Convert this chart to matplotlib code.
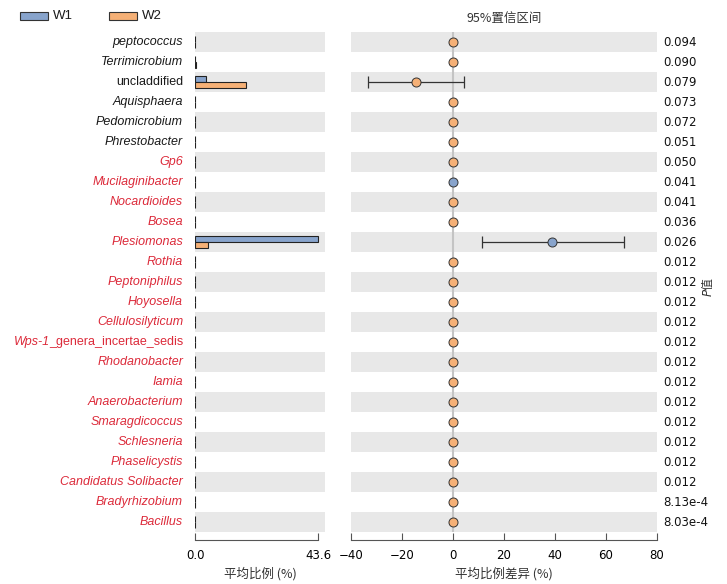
import matplotlib
matplotlib.use("Agg")
import matplotlib.pyplot as plt
import matplotlib.transforms as mtransforms
from matplotlib.patches import Rectangle

# données
genres = ["peptococcus", "Terrimicrobium", "uncladdified", "Aquisphaera", "Pedomicrobium",
          "Phrestobacter", "Gp6", "Mucilaginibacter", "Nocardioides", "Bosea", "Plesiomonas",
          "Rothia", "Peptoniphilus", "Hoyosella", "Cellulosilyticum", "Wps-1_genera_incertae_sedis",
          "Rhodanobacter", "Iamia", "Anaerobacterium", "Smaragdicoccus", "Schlesneria",
          "Phaselicystis", "Candidatus Solibacter", "Bradyrhizobium", "Bacillus"]
nb_noirs = 6  # les 6 premiers en noir, le reste en rouge

w1 = [0.05, 0.15, 3.9, 0.1, 0.05, 0.05, 0.06, 0.12, 0.05, 0.05, 43.6,
      0.03, 0.05, 0.03, 0.06, 0.03, 0.05, 0.04, 0.05, 0.03, 0.05, 0.03, 0.05, 0.05, 0.06]
w2 = [0.08, 0.25, 18.1, 0.15, 0.08, 0.08, 0.1, 0.05, 0.1, 0.1, 4.6,
      0.06, 0.1, 0.06, 0.1, 0.06, 0.1, 0.08, 0.1, 0.06, 0.1, 0.06, 0.1, 0.1, 0.12]
diff = [-0.1, -0.1, -14.5, -0.1, -0.1, -0.1, -0.1, 0.1, -0.1, -0.1, 39.0,
        -0.1, -0.1, -0.1, -0.1, -0.1, -0.1, -0.1, -0.1, -0.1, -0.1, -0.1, -0.1, -0.1, -0.1]
ci_bas = [None, None, -33.4, None, None, None, None, None, None, None, 11.5,
          None, None, None, None, None, None, None, None, None, None, None, None, None, None]
ci_haut = [None, None, 4.3, None, None, None, None, None, None, None, 67.0,
           None, None, None, None, None, None, None, None, None, None, None, None, None, None]
pvals = ["0.094", "0.090", "0.079", "0.073", "0.072", "0.051", "0.050", "0.041", "0.041", "0.036",
         "0.026", "0.012", "0.012", "0.012", "0.012", "0.012", "0.012", "0.012", "0.012", "0.012",
         "0.012", "0.012", "0.012", "8.13e-4", "8.03e-4"]

bleu = "#88a4cc"
orange = "#f5b076"
gris_bande = "#e8e8e8"
rouge = "#dc2a3a"
cjk = ["Noto Sans CJK SC", "DejaVu Sans"]

W, H = 727, 584
fig = plt.figure(figsize=(W / 100, H / 100), dpi=100)
n = len(genres)

ax1 = fig.add_axes([195 / W, 1 - 532 / H, 130 / W, 500 / H])
ax2 = fig.add_axes([351 / W, 1 - 532 / H, 306 / W, 500 / H])

for ax in (ax1, ax2):
    ax.set_ylim(n - 0.5, -0.5)
    for i in range(0, n, 2):
        ax.axhspan(i - 0.5, i + 0.5, color=gris_bande, lw=0, zorder=0)
    for s in ["left", "right", "top"]:
        ax.spines[s].set_visible(False)
    ax.spines["bottom"].set_position(("outward", 6))
    ax.spines["bottom"].set_color("#555555")
    ax.set_yticks([])
    ax.tick_params(axis="x", direction="in", length=5, color="#555555",
                   labelsize=8.5, pad=6)

# barres
y = list(range(n))
h = 0.3
ax1.barh([v - h / 2 for v in y], w1, height=h, color=bleu, edgecolor="#222222", lw=0.8, zorder=2)
ax1.barh([v + h / 2 for v in y], w2, height=h, color=orange, edgecolor="#222222", lw=0.8, zorder=2)
ax1.set_xlim(0, 46)
ax1.set_xticks([0, 43.6])
ax1.set_xticklabels(["0.0", "43.6"])
ax1.spines["bottom"].set_bounds(0, 43.6)
ax1.set_xlabel("平均比例 (%)", family=cjk, fontsize=9, color="#333333", labelpad=4)

# intervalles de confiance
ax2.axvline(0, color="#c4c4c4", lw=1.5, zorder=1)
for i in range(n):
    c = bleu if diff[i] > 0 else orange
    if ci_bas[i] is not None:
        ax2.errorbar(diff[i], i, xerr=[[diff[i] - ci_bas[i]], [ci_haut[i] - diff[i]]],
                     fmt="none", ecolor="#333333", elinewidth=0.9, capsize=4, capthick=0.9, zorder=2)
    ax2.plot(diff[i], i, "o", ms=6.5, mfc=c, mec="#333333", mew=0.7, zorder=3)
ax2.set_xlim(-40, 80)
ax2.set_xticks([-40, -20, 0, 20, 40, 60, 80])
ax2.set_xlabel("平均比例差异 (%)", family=cjk, fontsize=9, color="#333333", labelpad=4)
ax2.set_title("95%置信区间", family=cjk, fontsize=9, color="#333333", pad=7)

# noms des genres
trans1 = mtransforms.blended_transform_factory(fig.transFigure, ax1.transData)
for i, g in enumerate(genres):
    col = "#1a1a1a" if i < nb_noirs else rouge
    if g == "uncladdified":
        ax1.text(183 / W, i, g, transform=trans1, ha="right", va="center",
                 family="Liberation Sans", fontsize=9, color=col)
    elif g.startswith("Wps-1"):
        t = ax1.text(183 / W, i, "_genera_incertae_sedis", transform=trans1, ha="right",
                     va="center", family="Liberation Sans", fontsize=9, color=col)
        ax1.annotate("Wps-1", xy=(0, 0.5), xycoords=t, xytext=(1.2, 0), textcoords="offset points",
                     ha="right", va="center",
                     family="Liberation Sans", style="italic", fontsize=9, color=col)
    else:
        ax1.text(183 / W, i, g, transform=trans1, ha="right", va="center",
                 family="Liberation Sans", style="italic", fontsize=9, color=col)

# valeurs P
trans2 = mtransforms.blended_transform_factory(fig.transFigure, ax2.transData)
for i, p in enumerate(pvals):
    ax2.text(663 / W, i, p, transform=trans2, ha="left", va="center", fontsize=8.5, color="#111111")
fig.text(708 / W, 1 - 287 / H, "P值", rotation=90, ha="center", va="center",
         family=["DejaVu Sans", "Noto Sans CJK SC"], style="italic", fontsize=8.5, color="#333333")

# légende
for x0, lab, c in [(20, "W1", bleu), (109, "W2", orange)]:
    fig.patches.append(Rectangle((x0 / W, 1 - 20 / H), 28 / W, 8 / H, transform=fig.transFigure,
                                 facecolor=c, edgecolor="#333333", lw=0.8))
    fig.text((x0 + 33) / W, 1 - 16 / H, lab, ha="left", va="center",
             family="Liberation Sans", fontsize=9.5, color="#1a1a1a")

fig.savefig("out.png", dpi=100)
